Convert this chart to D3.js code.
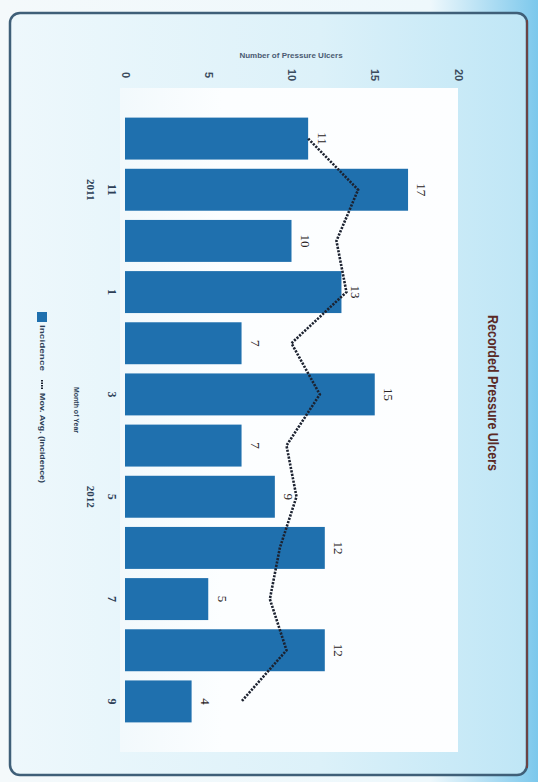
<!DOCTYPE html>
<html>
<head>
<meta charset="utf-8">
<script src="https://cdn.jsdelivr.net/npm/d3@7"></script>
<style>
  body { margin: 0; background: #fff; }
  svg { display: block; }
</style>
</head>
<body>
<div id="chart"></div>
<script>
// month of year, Oct 2011 .. Sep 2012
var months = ["10", "11", "12", "1", "2", "3", "4", "5", "6", "7", "8", "9"];
var monthTicks = ["", "11", "", "1", "", "3", "", "5", "", "7", "", "9"];
var yearTicks = ["", "2011", "", "", "", "", "", "2012", "", "", "", ""];

// recorded pressure ulcers per month
var ulcers = [11, 17, 10, 13, 7, 15, 7, 9, 12, 5, 12, 4];
// moving average line
var movAvg = [11, 14, 12.7, 13.3, 10, 11.7, 9.7, 10.3, 9.3, 8.7, 9.7, 7];

var valueTicks = [0, 5, 10, 15, 20];
var legendNames = ["Incidence", "Mov. Avg. (Incidence)"];

var width = 538, height = 782;

var svg = d3.select("#chart").append("svg")
    .attr("width", width)
    .attr("height", height);

var defs = svg.append("defs");

// page behind the scanned chart, bluish on the right
var pageGrad = defs.append("linearGradient").attr("id", "page");
pageGrad.append("stop").attr("offset", "0%").attr("stop-color", "#f4f9fb");
pageGrad.append("stop").attr("offset", "80%").attr("stop-color", "#eef8fc");
pageGrad.append("stop").attr("offset", "100%").attr("stop-color", "#7cc8ec");

var frameGrad = defs.append("linearGradient").attr("id", "frame");
frameGrad.append("stop").attr("offset", "0%").attr("stop-color", "#eef8fc");
frameGrad.append("stop").attr("offset", "60%").attr("stop-color", "#dcf1f9");
frameGrad.append("stop").attr("offset", "100%").attr("stop-color", "#bfe6f6");

var plotGrad = defs.append("linearGradient").attr("id", "plot");
plotGrad.append("stop").attr("offset", "0%").attr("stop-color", "#f2f9fc");
plotGrad.append("stop").attr("offset", "30%").attr("stop-color", "#fcfeff");
plotGrad.append("stop").attr("offset", "100%").attr("stop-color", "#fdfeff");

svg.append("rect")
    .attr("width", width).attr("height", height)
    .style("fill", "url(#page)");

// chart area with rounded border
svg.append("rect")
    .attr("x", 10).attr("y", 13)
    .attr("width", 517).attr("height", 762)
    .attr("rx", 10)
    .style("fill", "url(#frame)")
    .style("stroke", "#3f5f78")
    .style("stroke-width", 2.5);

svg.append("line")
    .attr("x1", 527).attr("x2", 527).attr("y1", 20).attr("y2", 768)
    .style("stroke", "#7a3a35").style("stroke-width", 1.5);

// plot area
svg.append("rect")
    .attr("x", 120).attr("y", 88)
    .attr("width", 338).attr("height", 664)
    .style("fill", "url(#plot)");

// scales: chart is turned on its side, values run left to right
var x = d3.scaleLinear()
    .domain([0, 20])
    .range([125, 458]);

var y = d3.scaleBand()
    .domain(months)
    .range([113, 727])
    .paddingInner(0.18)
    .paddingOuter(0.09);

// bars
svg.selectAll(".bar")
    .data(ulcers)
    .enter().append("rect")
    .attr("class", "bar")
    .attr("x", x(0))
    .attr("y", function(d, i) { return y(months[i]); })
    .attr("width", function(d) { return x(d) - x(0); })
    .attr("height", y.bandwidth())
    .style("fill", "#1f70ae");

// moving average line
var line = d3.line()
    .x(function(d) { return x(d); })
    .y(function(d, i) { return y(months[i]) + y.bandwidth() / 2; });

svg.append("path")
    .datum(movAvg)
    .attr("d", line)
    .style("fill", "none")
    .style("stroke", "#1c2230")
    .style("stroke-width", 2.6)
    .style("stroke-dasharray", "2.2,1.3");

// data labels at bar ends
svg.selectAll(".lbl")
    .data(ulcers)
    .enter().append("text")
    .attr("class", "lbl")
    .attr("transform", function(d, i) {
      return "translate(" + (x(d) + 14) + "," + (y(months[i]) + y.bandwidth() / 2) + ") rotate(90)";
    })
    .attr("dy", "0.35em")
    .attr("text-anchor", "middle")
    .style("font-family", "'Liberation Serif', serif")
    .style("font-size", "13px")
    .style("fill", "#2a2426")
    .text(function(d) { return d; });

// value axis (top), labels turned
var xAxis = svg.append("g")
    .attr("transform", "translate(0,75)")
    .call(d3.axisTop(x).tickValues(valueTicks).tickSize(0));
xAxis.select(".domain").remove();
xAxis.selectAll("text")
    .attr("x", 0).attr("y", 0)
    .attr("dy", "0.35em")
    .attr("text-anchor", "middle")
    .attr("transform", "rotate(90)")
    .style("font-family", "'Liberation Sans', Arial, sans-serif")
    .style("font-weight", "bold")
    .style("font-size", "11px")
    .style("fill", "#3c4c5e");

svg.append("text")
    .attr("x", 291).attr("y", 58)
    .attr("text-anchor", "middle")
    .style("font-family", "'Liberation Sans', Arial, sans-serif")
    .style("font-weight", "bold")
    .style("font-size", "8px")
    .style("fill", "#4a5a72")
    .text("Number of Pressure Ulcers");

// month axis (left) and year row
var yAxis = svg.append("g")
    .attr("transform", "translate(112,0)")
    .call(d3.axisLeft(y).tickSize(0).tickFormat(function(d, i) { return monthTicks[i]; }));
yAxis.select(".domain").remove();
yAxis.selectAll("text")
    .attr("x", 0).attr("y", 0)
    .attr("dy", "0.35em")
    .attr("text-anchor", "middle")
    .attr("transform", "rotate(90)")
    .style("font-family", "'Liberation Serif', serif")
    .style("font-weight", "bold")
    .style("font-size", "12px")
    .style("fill", "#2c3e56");

var yearAxis = svg.append("g")
    .attr("transform", "translate(91,0)")
    .call(d3.axisLeft(y).tickSize(0).tickFormat(function(d, i) { return yearTicks[i]; }));
yearAxis.select(".domain").remove();
yearAxis.selectAll("text")
    .attr("x", 0).attr("y", 0)
    .attr("dy", "0.35em")
    .attr("text-anchor", "middle")
    .attr("transform", "rotate(90)")
    .style("font-family", "'Liberation Serif', serif")
    .style("font-weight", "bold")
    .style("font-size", "11px")
    .style("fill", "#2c3e56");

svg.append("text")
    .attr("transform", "translate(76,410) rotate(90)")
    .attr("dy", "0.35em")
    .attr("text-anchor", "middle")
    .style("font-family", "'Liberation Sans', Arial, sans-serif")
    .style("font-weight", "bold")
    .style("font-size", "7px")
    .style("fill", "#2c3e56")
    .text("Month of Year");

// title
svg.append("text")
    .attr("transform", "translate(493,393) rotate(90)")
    .attr("dy", "0.35em")
    .attr("text-anchor", "middle")
    .attr("textLength", 156)
    .attr("lengthAdjust", "spacingAndGlyphs")
    .style("font-family", "'Liberation Sans', Arial, sans-serif")
    .style("font-weight", "bold")
    .style("font-size", "15px")
    .style("fill", "#5b2a26")
    .text("Recorded Pressure Ulcers");

// legend, turned like the rest
var legend = svg.append("g").attr("transform", "translate(42,0)");
legend.append("rect")
    .attr("x", -5).attr("y", 312)
    .attr("width", 10).attr("height", 10)
    .style("fill", "#1f70ae");
legend.append("text")
    .attr("transform", "translate(0,325) rotate(90)")
    .attr("dy", "0.35em")
    .attr("textLength", 46)
    .attr("lengthAdjust", "spacingAndGlyphs")
    .style("font-family", "'Liberation Sans', Arial, sans-serif")
    .style("font-weight", "bold")
    .style("font-size", "7px")
    .style("fill", "#2c3e56")
    .text(legendNames[0]);
legend.append("line")
    .attr("x1", 0).attr("x2", 0)
    .attr("y1", 380).attr("y2", 389)
    .style("stroke", "#1c2230")
    .style("stroke-width", 2)
    .style("stroke-dasharray", "1.5,1");
legend.append("text")
    .attr("transform", "translate(0,393) rotate(90)")
    .attr("dy", "0.35em")
    .attr("textLength", 90)
    .attr("lengthAdjust", "spacingAndGlyphs")
    .style("font-family", "'Liberation Sans', Arial, sans-serif")
    .style("font-weight", "bold")
    .style("font-size", "7px")
    .style("fill", "#2c3e56")
    .text(legendNames[1]);
</script>
</body>
</html>
